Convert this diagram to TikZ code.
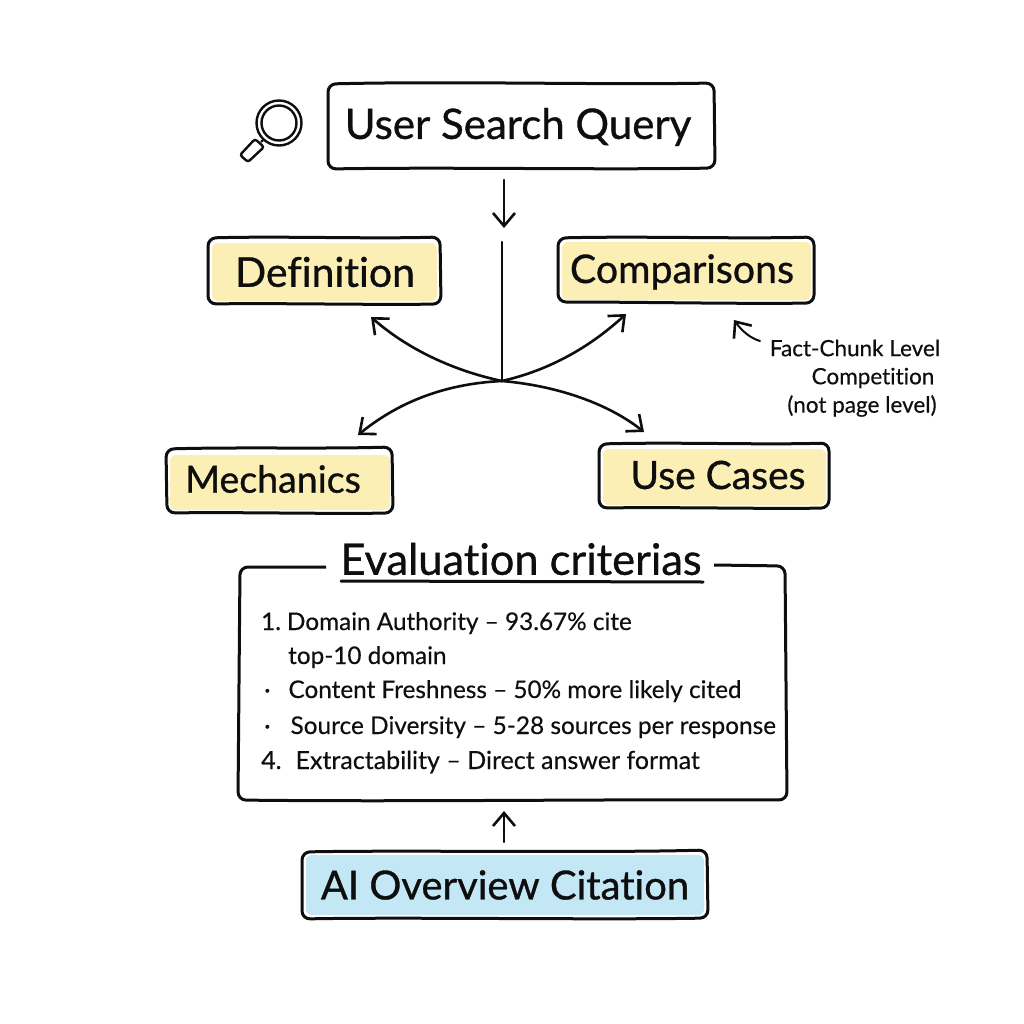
\documentclass[tikz,border=0pt]{standalone}
\usepackage{fontspec}
\setmainfont{Lato}[FakeBold=0.35,Ligatures=NoCommon]
\newfontfamily\headf{Lato}[FakeBold=0.8,Ligatures=NoCommon]
\usetikzlibrary{arrows.meta}
\definecolor{inkc}{HTML}{0E0E0E}
\definecolor{yel}{HTML}{FBEFB6}
\definecolor{blu}{HTML}{C4E7F6}
\tikzset{
  x=1pt,y=-1pt,
  sk/.style={draw=inkc,line width=3pt,rounded corners=8pt,line join=round},
  yfill/.style={fill=yel,rounded corners=6pt},
  bfill/.style={fill=blu,rounded corners=6pt},
  lab/.style={text=inkc,inner sep=0pt,anchor=center},
  arr/.style={draw=inkc,line width=2.6pt,line cap=round,-{Straight Barb[length=13pt,width=22pt,line width=2.6pt]}},
  lin/.style={draw=inkc,line width=2.6pt,line cap=round},
  item/.style={text=inkc,inner sep=0pt,anchor=base west},
  mag/.style={draw=inkc,line width=2.4pt}
}
\begin{document}
\begin{tikzpicture}
\useasboundingbox (0,0) rectangle (1024,1024);
% fills
\fill[yfill] (212,243) rectangle (437,301);
\fill[yfill] (562,242) rectangle (811,300);
\fill[yfill] (170,455) rectangle (390,510);
\fill[yfill] (603,449) rectangle (826,505);
\fill[bfill] (306,855) rectangle (704,915);
% boxes
\draw[sk] (328,84) .. controls (450,81) and (600,85) .. (714,83) -- (715,168) .. controls (600,170) and (450,167) .. (328,169) -- cycle;
\node[lab,font=\headf\fontsize{42}{42}\selectfont] (q) at (518,127) {User Search Query};
\draw[sk] (208,238) .. controls (280,236) and (370,239) .. (440,237) -- (441,304) .. controls (370,305) and (280,303) .. (208,304) -- cycle;
\node[lab,font=\headf\fontsize{41}{41}\selectfont] (d) at (325,272) {Definition};
\draw[sk] (558,238) .. controls (640,236) and (740,239) .. (814,237) -- (814,303) .. controls (740,304) and (640,302) .. (558,302) -- cycle;
\node[lab,font=\headf\fontsize{39.3}{40}\selectfont] (c) at (682,272) {Comparisons};
\draw[sk] (166,449) .. controls (240,447) and (320,449) .. (392,447) -- (393,513) .. controls (320,514) and (240,512) .. (167,513) -- cycle;
\node[lab,font=\headf\fontsize{37.5}{38}\selectfont] (m) at (273,479) {Mechanics};
\draw[sk] (599,444) .. controls (680,442) and (760,445) .. (829,443) -- (829,508) .. controls (760,509) and (680,507) .. (599,508) -- cycle;
\node[lab,font=\headf\fontsize{39}{40}\selectfont] (u) at (718,475) {Use Cases};
% eval
\node[lab,font=\headf\fontsize{43.4}{44}\selectfont] (e) at (521,559) {Evaluation criterias};
\draw[lin,line width=3pt] (341,581) -- (703,582);
\draw[sk] (326,567) -- (240,567) -- (238,800) .. controls (400,802) and (620,799) .. (787,800) -- (785,566) -- (714,565);
\node[item,font=\fontsize{24.3}{25}\selectfont] (i1) at (261,630) {1.\hspace{6pt}Domain Authority – 93.67\% cite};
\node[item,font=\fontsize{24.3}{25}\selectfont] (i1b) at (288,664) {top-10 domain};
\node[item,font=\fontsize{24.3}{25}\selectfont] (i2) at (264,698) {·\hspace{18pt}Content Freshness – 50\% more likely cited};
\node[item,font=\fontsize{24.4}{25}\selectfont] (i3) at (264,734) {·\hspace{20pt}Source Diversity – 5-28 sources per response};
\node[item,font=\fontsize{25}{25}\selectfont] (i4) at (261,769) {4.\hspace{14pt}Extractability – Direct answer format};
\draw[sk] (302,852) .. controls (400,850) and (600,853) .. (707,850) -- (708,918) .. controls (600,920) and (400,917) .. (302,919) -- cycle;
\node[lab,font=\headf\fontsize{40}{40}\selectfont] (a) at (505,885) {AI Overview Citation};
% connectors
\coordinate (hub) at (502,381);
\coordinate (top) at (504,180);
\coordinate (topb) at (504,228);
\coordinate (vtop) at (502,242);
\draw[arr] (top) -- (topb);
\draw[lin] (vtop) -- (hub);
\coordinate (td) at (371,317);
\coordinate (tc) at (626,314);
\coordinate (tm) at (358,435);
\coordinate (tu) at (644,432);
\draw[arr] (hub) .. controls (450,370) and (405,347) .. (td);
\draw[arr] (hub) .. controls (550,370) and (590,347) .. (tc);
\draw[arr] (hub) .. controls (440,384) and (395,405) .. (tm);
\draw[arr] (hub) .. controls (560,386) and (610,405) .. (tu);
\coordinate (b1) at (504,842);
\coordinate (b2) at (504,811);
\draw[arr] (b1) -- (b2);
\coordinate (f1) at (760,341);
\coordinate (f2) at (734,320);
\draw[arr,line width=2pt] (f1) .. controls (750,338) and (742,331) .. (f2);
% note
\node[lab,font=\fontsize{22.5}{23}\selectfont] (n1) at (855,348) {Fact-Chunk Level};
\node[lab,font=\fontsize{22.5}{23}\selectfont] (n2) at (873,378) {Competition};
\node[lab,font=\fontsize{22.5}{23}\selectfont] (n3) at (862,406) {(not page level)};
% magnifier
\draw[mag] (279,123) circle (22.5pt);
\draw[mag] (279,123) circle (17.5pt);
\draw[mag] (264,139) -- (261,142);
\draw[mag,rounded corners=2.5pt,fill=white] (255,139) -- (264,147) -- (248,162) -- (240,155) -- cycle;
\end{tikzpicture}
\end{document}
